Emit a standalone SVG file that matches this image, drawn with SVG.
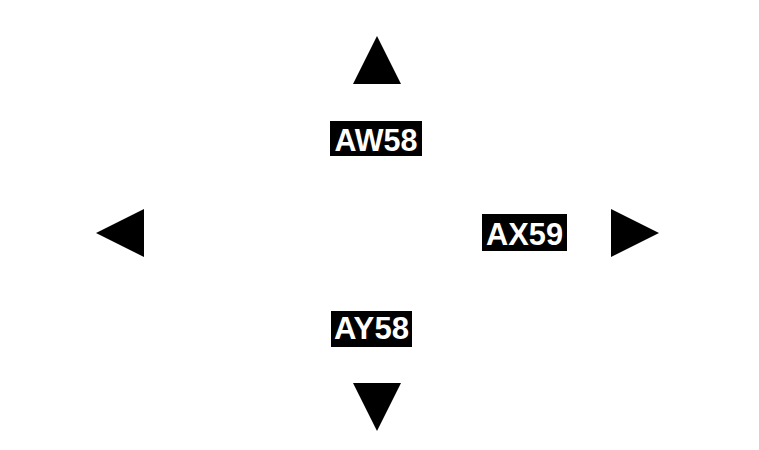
<svg xmlns="http://www.w3.org/2000/svg" width="759" height="450" viewBox="0 0 759 450">
<style>
.arrow{fill:#000}
.box{fill:#000}
.lbl{font-family:"Liberation Sans",Arial,sans-serif;font-weight:bold;font-size:32px;fill:#fff;text-anchor:middle}
</style>
<rect x="0" y="0" width="759" height="450" fill="#fff"/>
<g id="arrow-up"><polygon class="arrow" points="377,36 401,84 353,84"/></g>
<g id="arrow-down"><polygon class="arrow" points="353,383 401,383 377,431"/></g>
<g id="arrow-left"><polygon class="arrow" points="96,233 144,209 144,257"/></g>
<g id="arrow-right"><polygon class="arrow" points="611,209 659,233 611,257"/></g>
<g id="label-AW58"><rect class="box" x="330" y="121" width="92" height="35"/><text class="lbl" x="376" y="151" textLength="83" lengthAdjust="spacingAndGlyphs">AW58</text></g>
<g id="label-AX59"><rect class="box" x="482" y="214" width="85" height="37"/><text class="lbl" x="524.5" y="245" textLength="77" lengthAdjust="spacingAndGlyphs">AX59</text></g>
<g id="label-AY58"><rect class="box" x="331" y="311" width="81" height="36"/><text class="lbl" x="371.5" y="339" textLength="75" lengthAdjust="spacingAndGlyphs">AY58</text></g>
<g id="connectors"></g>
</svg>
